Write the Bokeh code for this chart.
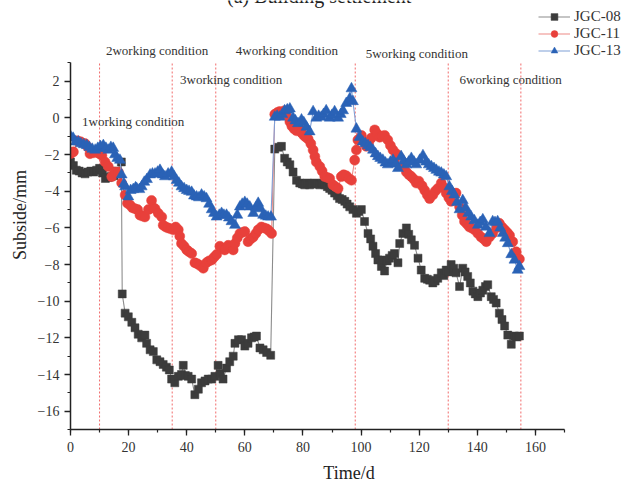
from bokeh.plotting import figure
from bokeh.models import Label, Legend, LegendItem, Range1d, CustomJSTickFormatter, FixedTicker
from bokeh.embed import file_html
from bokeh.resources import INLINE

FONT = "Liberation Serif"

# ---------------- data ----------------
jgc08_t = [0, 1, 2, 3, 4, 5, 6, 7, 8, 9, 10, 11, 12, 13, 14, 15, 16, 17.5,
           17.8, 18.8, 19.9, 21.1, 22.2, 23.3, 24.5, 25.6, 26.2, 27.4, 28.5, 29.7, 30.8, 31.9, 33.0, 34.0,
           34.8, 35.9, 37.1, 38.2, 38.8, 39.5, 40.5, 41.7, 42.8, 44.0, 45.1, 46.3, 47.4, 48.6, 49.7, 50.8,
           51.5, 52.5, 53.7, 54.8, 56.0, 56.6, 57.8, 58.9, 60.0, 61.1, 62.3, 63.2, 64.0, 65.2, 66.3, 67.5, 68.9,
           70.3, 71.5, 72.6, 73.7, 74.6, 75.5, 76.6, 77.8, 78.9, 79.8, 80.6, 81.5, 82.3, 83.2, 84.0, 85.0,
           85.8, 86.7, 87.5, 88.4, 89.2, 90.0, 90.9, 91.8, 92.6, 93.5, 94.4, 95.2, 96.1, 97.2, 98.4, 99.2,
           100.1, 101.2, 102.4, 103.3, 104.1, 105.0, 105.8, 107.0, 107.5, 108.1, 109.0, 109.8, 110.7, 111.5,
           112.7, 113.3, 114.4, 115.6, 116.4, 117.3, 118.4, 119.6, 120.7, 121.9, 122.8, 123.6, 124.7, 125.5,
           126.4, 127.6, 128.5, 129.3, 130.2, 131.0, 131.9, 132.7, 133.9, 135.0, 135.8, 136.7, 137.6, 138.5,
           139.3, 140.2, 141.1, 141.9, 142.8, 143.6, 144.8, 145.6, 146.5, 147.6, 148.5, 149.4, 150.5, 151.7,
           152.8, 153.6, 154.5]
jgc08_v = [-2.4, -2.6, -2.85, -2.9, -3.0, -3.05, -2.95, -2.9, -2.95, -2.85, -2.75, -3.0, -3.3, -3.25, -3.2, -3.15, -2.9, -2.4,
           -9.6, -10.65, -10.85, -11.15, -11.45, -11.8, -12.0, -11.85, -12.3, -12.65, -12.75, -13.2, -13.3, -13.45, -13.6, -13.75,
           -14.25, -14.45, -14.1, -14.0, -13.5, -14.05, -14.1, -14.25, -15.1, -14.8, -14.45, -14.35, -14.25, -14.25, -14.1, -13.5,
           -13.95, -14.25, -13.65, -13.3, -13.0, -12.3, -12.1, -12.1, -12.45, -12.3, -12.0, -11.95, -11.9, -12.55, -12.65, -12.8, -12.95,
           -1.7, -1.6, -1.55, -2.2, -2.4, -2.55, -2.95, -3.4, -3.55, -3.6, -3.65, -3.55, -3.65, -3.6, -3.55, -3.6,
           -3.65, -3.55, -3.65, -3.75, -3.85, -3.95, -4.1, -4.25, -4.4, -4.45, -4.55, -4.7, -4.85, -5.0, -5.2, -5.1,
           -5.0, -5.65, -6.3, -6.6, -7.0, -7.4, -7.75, -8.1, -7.75, -8.35, -7.8, -7.65, -7.5, -7.4,
           -7.9, -6.85, -6.3, -6.0, -6.35, -6.65, -6.95, -7.65, -8.3, -8.75, -8.8, -8.85, -9.0, -8.9,
           -8.75, -8.45, -8.6, -8.3, -8.4, -8.0, -8.2, -8.45, -9.2, -8.2, -8.4, -8.65, -9.0, -9.45,
           -9.6, -9.75, -9.55, -9.4, -9.2, -9.1, -9.75, -9.9, -10.1, -10.65, -11.0, -11.35, -11.85, -12.35,
           -11.9, -11.95, -11.9]

jgc11_t = [0, 1, 2.4, 3.5, 5, 6, 6.7, 8, 9, 10, 10.8, 11.9, 13, 14.2, 15.3, 16.5, 17.6, 18.8, 19.6, 20.5,
           21.3, 22.2, 23.1, 23.9, 24.7, 25.6, 26.8, 27.9, 28.5, 29.1, 30.2, 31.4, 31.9, 32.8, 33.6, 34.5,
           35.4, 36.2, 37.1, 37.6, 38.2, 39.1, 40.0, 40.8, 41.7, 42.8, 43.6, 44.5, 45.7, 46.8, 47.7, 48.6,
           49.4, 50.3, 51.4, 52.2, 53.1, 54.3, 55.2, 56.0, 56.6, 57.4, 58.3, 59.1, 60.0, 61.1, 62.0, 62.9,
           63.8, 64.6, 65.7, 66.6, 67.5, 68.3, 69.2,
           70.3, 71.2, 72.0, 72.9, 73.7, 74.6, 75.5, 76.2, 77.0, 77.8, 78.6, 79.5, 80.3, 81.0, 81.8, 82.7,
           83.5, 84.1, 84.6, 85.8, 86.6, 87.5, 88.4, 89.2, 90.3, 91.2, 92.1, 93.2, 94.0, 94.9, 95.8, 96.7,
           97.8, 98.4, 98.9, 100.1, 101.0, 101.8, 102.6, 103.5, 104.7, 105.5, 106.4, 107.2, 108.1, 109.2,
           110.1, 111.0, 112.1, 113.0, 113.8, 114.7, 115.6, 116.5, 117.3, 118.2, 119.0, 119.9, 121.0, 121.9,
           122.8, 123.6, 124.7, 125.5, 126.4, 127.6, 128.5, 129.3, 130.2, 131.0, 131.9, 132.7, 133.9, 134.8,
           135.6, 136.5, 137.3, 138.1, 139.0, 140.2, 141.3, 142.2, 143.1, 144.2, 145.3, 146.5, 147.6, 148.5,
           149.4, 150.3, 151.1, 152.2, 153.4, 154.5]
jgc11_v = [-1.95, -1.85, -1.25, -1.3, -1.4, -1.6, -1.95, -1.9, -1.85, -1.95, -2.05, -2.4, -2.65, -3.2, -2.95, -2.95, -3.55, -4.2, -4.65, -4.75,
           -4.9, -4.95, -5.0, -5.3, -5.35, -5.4, -5.0, -4.5, -4.9, -4.95, -5.2, -5.4, -5.85, -5.95, -6.0, -6.05,
           -6.1, -5.95, -6.1, -6.45, -6.85, -7.0, -7.2, -7.3, -7.4, -7.9, -7.95, -8.05, -8.2, -7.9, -7.8, -7.75,
           -7.6, -7.45, -7.0, -7.1, -7.2, -6.95, -7.05, -7.2, -6.85, -6.55, -6.3, -6.25, -6.2, -6.75, -6.6, -6.5,
           -6.3, -6.1, -5.95, -6.0, -6.05, -6.15, -6.3,
           0.2, 0.3, 0.35, 0.2, 0.4, 0.15, -0.2, -0.45, -0.6, -0.7, -0.55, -0.8, -0.95, -1.05, -1.15, -1.4,
           -1.75, -2.1, -2.4, -2.65, -2.9, -3.2, -3.25, -3.3, -3.65, -3.75, -3.85, -3.2, -3.1, -3.15, -3.3, -3.4,
           -2.3, -1.75, -1.2, -0.95, -1.3, -1.55, -1.35, -1.1, -0.65, -0.85, -1.05, -1.0, -0.95, -1.2,
           -1.5, -1.75, -1.95, -2.1, -2.3, -2.6, -2.95, -3.1, -3.2, -3.35, -3.55, -3.45, -3.7, -3.95,
           -4.2, -4.4, -4.2, -4.0, -3.85, -3.55, -3.8, -4.1, -4.35, -4.55, -4.3, -4.1, -4.85, -5.3,
           -5.65, -5.8, -5.95, -6.0, -6.1, -6.3, -6.5, -6.6, -6.75, -6.5, -6.3, -6.0, -5.75, -5.95,
           -6.1, -6.25, -6.4, -6.75, -7.3, -7.7]

jgc13_t = [0, 0.9, 1.8, 2.7, 3.6, 4.6, 5.6, 6.5, 7.5, 8.5, 9.4, 10.3, 11.3, 12.2, 13.0, 13.9, 14.7, 15.3, 16.1, 17.0,
           17.6, 18.4, 18.8, 19.9, 20.7, 21.6, 22.4, 22.8, 23.7, 24.5, 25.4, 26.3, 27.4, 28.2, 29.1, 30.0,
           30.8, 31.7, 32.5, 33.6, 34.8, 35.6, 36.5, 37.3, 38.2, 39.1, 40.0, 40.8, 41.7, 42.5, 43.4, 44.2,
           45.1, 46.0, 46.8, 47.7, 48.6, 49.4, 50.3, 51.2, 52.0, 52.8, 53.7, 54.5, 55.4, 56.6, 57.4, 58.3,
           59.1, 60.0, 60.8, 61.7, 62.9, 63.8, 64.6, 65.4, 66.3, 67.2, 68.0, 69.0,
           70.3, 71.1, 72.0, 72.9, 73.7, 74.6, 75.5, 76.6, 77.4, 78.3, 79.5, 80.3, 81.2, 82.3, 83.5, 84.6,
           85.4, 86.3, 87.1, 88.0, 89.2, 90.0, 90.9, 92.1, 93.0, 93.8, 94.9, 96.1, 96.7, 97.2, 98.4, 99.5,
           100.6, 101.5, 102.4, 103.2, 104.1, 105.0, 105.8, 106.6, 107.5, 108.4, 109.2, 110.1, 111.0, 112.0,
           112.7, 113.8, 114.7, 115.6, 116.4, 117.3, 118.2, 119.0, 120.2, 121.3, 122.4, 123.3, 124.2, 125.1,
           125.9, 126.8, 127.6, 128.5, 129.3, 130.4, 131.3, 132.1, 133.0, 133.9, 135.0, 136.0, 136.9, 137.9,
           139.0, 140.2, 141.0, 141.9, 143.0, 144.2, 145.3, 146.1, 147.0, 147.9, 148.8, 149.6, 150.5, 151.7,
           152.8, 153.9, 154.5]
jgc13_v = [-1.0, -1.1, -1.3, -1.3, -1.4, -1.45, -1.5, -1.6, -1.7, -1.75, -1.65, -1.55, -1.5, -1.65, -1.75, -1.6, -1.65, -2.0, -2.2, -2.3,
           -3.1, -3.6, -3.75, -4.3, -3.95, -3.9, -3.8, -3.85, -3.9, -3.75, -3.5, -3.35, -3.1, -3.05, -3.05, -2.95,
           -2.85, -3.1, -3.2, -3.05, -2.95, -3.2, -3.4, -3.55, -3.75, -3.85, -3.95, -4.0, -4.05, -4.25, -4.3, -4.35,
           -4.2, -4.3, -4.4, -4.7, -5.0, -5.2, -5.4, -5.3, -5.2, -5.3, -5.3, -5.45, -5.65, -5.85, -5.3, -4.85,
           -4.7, -4.6, -4.7, -4.85, -5.2, -4.9, -4.65, -4.95, -5.3, -5.35, -5.4, -5.4,
           0.05, 0.1, 0.05, 0.2, 0.4, 0.45, 0.5, 0.0, -0.15, -0.3, -0.1, -0.25, -0.5, -0.75, 0.35, 0.0,
           0.1, 0.05, 0.2, 0.4, 0.0, 0.15, 0.35, 0.0, 0.2, 0.4, 0.8, 1.05, 1.6, 0.9, -0.6, -1.05,
           -1.3, -1.4, -1.5, -1.6, -1.75, -1.95, -2.1, -2.2, -2.3, -2.45, -2.55, -2.4, -2.3, -2.5,
           -2.75, -2.1, -2.35, -2.55, -2.4, -2.2, -2.4, -2.55, -2.3, -2.05, -2.4, -2.55, -2.65, -2.75,
           -2.85, -2.95, -3.0, -3.1, -3.2, -3.75, -4.0, -4.2, -4.6, -5.0, -4.5, -4.9, -5.2, -5.4,
           -5.6, -5.85, -5.7, -5.55, -5.95, -6.3, -5.65, -5.7, -5.65, -6.0, -6.3, -6.55, -6.85, -7.45,
           -7.75, -8.3, -8.1]

series_names = ["JGC-08", "JGC-11", "JGC-13"]
condition_days = [10, 35, 50, 98, 130, 155]
condition_labels = ["1working condition", "2working condition", "3working condition",
                    "4working condition", "5working condition", "6working condition"]
label_x = [4.0, 12.2, 37.7, 56.9, 101.6, 133.9]
label_y = [-0.22, 3.68, 2.09, 3.68, 3.54, 2.09]
x_ticks = [0, 20, 40, 60, 80, 100, 120, 140, 160]
y_ticks = [2, 0, -2, -4, -6, -8, -10, -12, -14, -16]
x_axis_span = (0, 170)
y_axis_span = (-17, 3)
title_text = "(a) Building settlement"

# ---------------- figure ----------------
# frame extends to the top/right canvas edges so that annotations placed
# outside the axis box (legend, condition labels) are not clipped; the axes
# themselves are limited with "bounds".
p = figure(width=627, height=485, output_backend="svg", toolbar_location=None,
           x_range=Range1d(0, 191.7), y_range=Range1d(-17, 6.41),
           min_border_left=70, min_border_right=0, min_border_top=0, min_border_bottom=54)
p.outline_line_color = None
p.xgrid.visible = False
p.ygrid.visible = False
p.background_fill_color = "white"
p.border_fill_color = "white"

minus_fmt = CustomJSTickFormatter(code="return tick < 0 ? '\\u2212' + Math.abs(tick) : String(tick);")

for ax in (p.xaxis[0], p.yaxis[0]):
    ax.axis_line_color = "#222222"
    ax.axis_line_width = 1.5
    ax.major_tick_line_color = "#222222"
    ax.minor_tick_line_color = "#222222"
    ax.major_tick_line_width = 1.3
    ax.minor_tick_line_width = 1.2
    ax.major_tick_out = 6
    ax.major_tick_in = 0
    ax.minor_tick_out = 3
    ax.minor_tick_in = 0
    ax.major_label_text_font = FONT
    ax.major_label_text_font_size = "14px"
    ax.major_label_text_color = "#333333"
    ax.axis_label_text_font = FONT
    ax.axis_label_text_font_size = "18px"
    ax.axis_label_text_font_style = "normal"
    ax.axis_label_text_color = "#222222"
    ax.formatter = minus_fmt

p.xaxis.bounds = x_axis_span
p.yaxis.bounds = y_axis_span
p.xaxis.ticker = FixedTicker(ticks=x_ticks, minor_ticks=list(range(0, 171, 10)))
p.yaxis.ticker = FixedTicker(ticks=y_ticks, minor_ticks=list(range(-17, 4)))
p.xaxis.axis_label = "Time/d"
p.yaxis.axis_label = "Subside/mm"
p.xaxis.major_label_standoff = 6
p.yaxis.major_label_standoff = 5
p.xaxis.axis_label_standoff = 8
p.yaxis.axis_label_standoff = 5

# condition boundary lines (span the axis box only)
p.segment(x0=condition_days, y0=[y_axis_span[0]] * len(condition_days),
          x1=condition_days, y1=[y_axis_span[1]] * len(condition_days),
          line_color="#ef5a5a", line_width=1, line_dash="2 2", line_alpha=0.9)

colors = ["#3c3c3c", "#e8403b", "#2a62b6"]
line_colors = ["#8c8c8c", "#ee8a86", "#7f9fd6"]
data = [(jgc08_t, jgc08_v), (jgc11_t, jgc11_v), (jgc13_t, jgc13_v)]
markers = ["square", "circle", "triangle"]
sizes = [8, 10, 11]

items = []
for (t, v), name, c, lc, m, s in zip(data, series_names, colors, line_colors, markers, sizes):
    lr = p.line(t, v, line_color=lc, line_width=1.1)
    sr = p.scatter(t, v, marker=m, size=s, fill_color=c, line_color=c, line_width=0.5)
    items.append(LegendItem(label=name, renderers=[lr, sr]))

legend = Legend(items=items, location=(468, 370), orientation="vertical",
                glyph_width=32, glyph_height=17, label_standoff=4, spacing=0,
                padding=0, margin=0, border_line_color=None, background_fill_alpha=0,
                label_text_font=FONT, label_text_font_size="15px", label_text_color="#333333",
                label_height=17)
p.add_layout(legend, "center")

for txt, lx, ly in zip(condition_labels, label_x, label_y):
    p.add_layout(Label(x=lx, y=ly, text=txt, text_font=FONT, text_font_size="13px",
                       text_color="#333333", text_baseline="middle", text_align="left"))

# partially visible panel title at the very top edge (cut off as in the source)
p.add_layout(Label(x=85.6, y=6.66, text=title_text, text_font=FONT, text_font_size="20px",
                   text_color="#222222", text_align="center", text_baseline="alphabetic"))

open("out.html", "w").write(file_html(p, INLINE))
